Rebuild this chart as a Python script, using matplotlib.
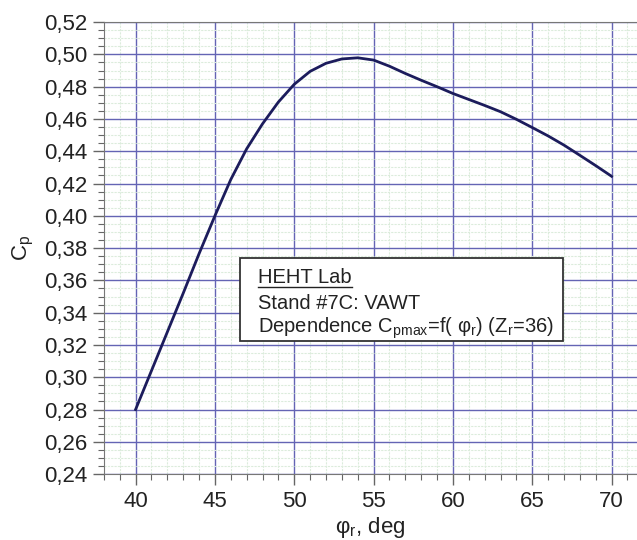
import matplotlib
matplotlib.use("Agg")
import matplotlib.pyplot as plt
import numpy as np
from matplotlib.ticker import MultipleLocator, FuncFormatter
from matplotlib.lines import Line2D

plt.rcParams['font.family'] = ['Liberation Sans', 'DejaVu Sans']
plt.rcParams['mathtext.fontset'] = 'custom'
plt.rcParams['mathtext.rm'] = 'Liberation Sans'
plt.rcParams['mathtext.it'] = 'Liberation Sans'
plt.rcParams['mathtext.default'] = 'rm'

# blade angle, deg
phi = [40, 41, 42, 43, 44, 45, 46, 47, 48, 49, 50, 51, 52, 53, 54, 55,
       56, 57, 58, 59, 60, 61, 62, 63, 64, 65, 66, 67, 68, 69, 70]
# power coefficient
cp = [0.280, 0.304, 0.328, 0.352, 0.3765, 0.4, 0.4225, 0.4415, 0.457, 0.4705,
      0.4815, 0.4895, 0.4945, 0.4972, 0.4979, 0.4965, 0.4927, 0.4882, 0.4840,
      0.4800, 0.4758, 0.4721, 0.4684, 0.4645, 0.4598, 0.4547, 0.4495, 0.4438,
      0.4375, 0.4311, 0.4245]

box_lines = ["HEHT Lab", "Stand #7C: VAWT",
             "Dependence C$_{pmax}$=f( φ$_r$) (Z$_r$=36)"]

fig = plt.figure(figsize=(6.37, 5.40), dpi=100)
ax = fig.add_axes([0.163, 0.122, 0.837, 0.837])

ax.plot(phi, cp, color="#1c1c5c", lw=2.0, zorder=3, solid_joinstyle="round")

ax.set_xlim(38, 71.6)
ax.set_ylim(0.24, 0.52)
ax.xaxis.set_major_locator(MultipleLocator(5))
ax.xaxis.set_minor_locator(MultipleLocator(1))
ax.yaxis.set_major_locator(MultipleLocator(0.02))
ax.yaxis.set_minor_locator(MultipleLocator(0.005))
ax.yaxis.set_major_formatter(FuncFormatter(lambda v, p: f"{v:.2f}".replace(".", ",")))

ax.grid(which="minor", color="#dcecdc", lw=0.8, ls=(0, (2, 1)), zorder=0)
ax.grid(which="major", color="#6464b4", lw=1.0, zorder=1)
ax.set_axisbelow(True)

ax.tick_params(which="major", direction="out", length=8, width=1, color="#666666",
               labelsize=16, labelcolor="#222222", pad=4)
ax.tick_params(which="minor", direction="out", length=4, width=0.8, color="#666666")
for s in ["left", "bottom", "top"]:
    ax.spines[s].set_color("#777777")
ax.spines["right"].set_visible(False)

ax.set_xlabel("φ$_r$, deg", fontsize=16, color="#222222", labelpad=2)
ax.set_ylabel("C$_p$", fontsize=16, color="#222222", labelpad=6)

# info box
ax.add_patch(plt.Rectangle((0.255, 0.294), 0.606, 0.184, transform=ax.transAxes,
                           facecolor="white", edgecolor="#333333", lw=1.3, zorder=4))
ys = [0.434, 0.378, 0.323]
texts = []
for s, y in zip(box_lines, ys):
    texts.append(ax.text(0.289, y, s, transform=ax.transAxes, fontsize=14.5,
                         color="#222222", va="center", ha="left", zorder=5))

fig.canvas.draw()
bb = texts[0].get_window_extent()
fig.add_artist(Line2D([bb.x0, bb.x1], [bb.y0, bb.y0], transform=None,
                      color="#222222", lw=1.0))

fig.savefig("out.png", dpi=100)
